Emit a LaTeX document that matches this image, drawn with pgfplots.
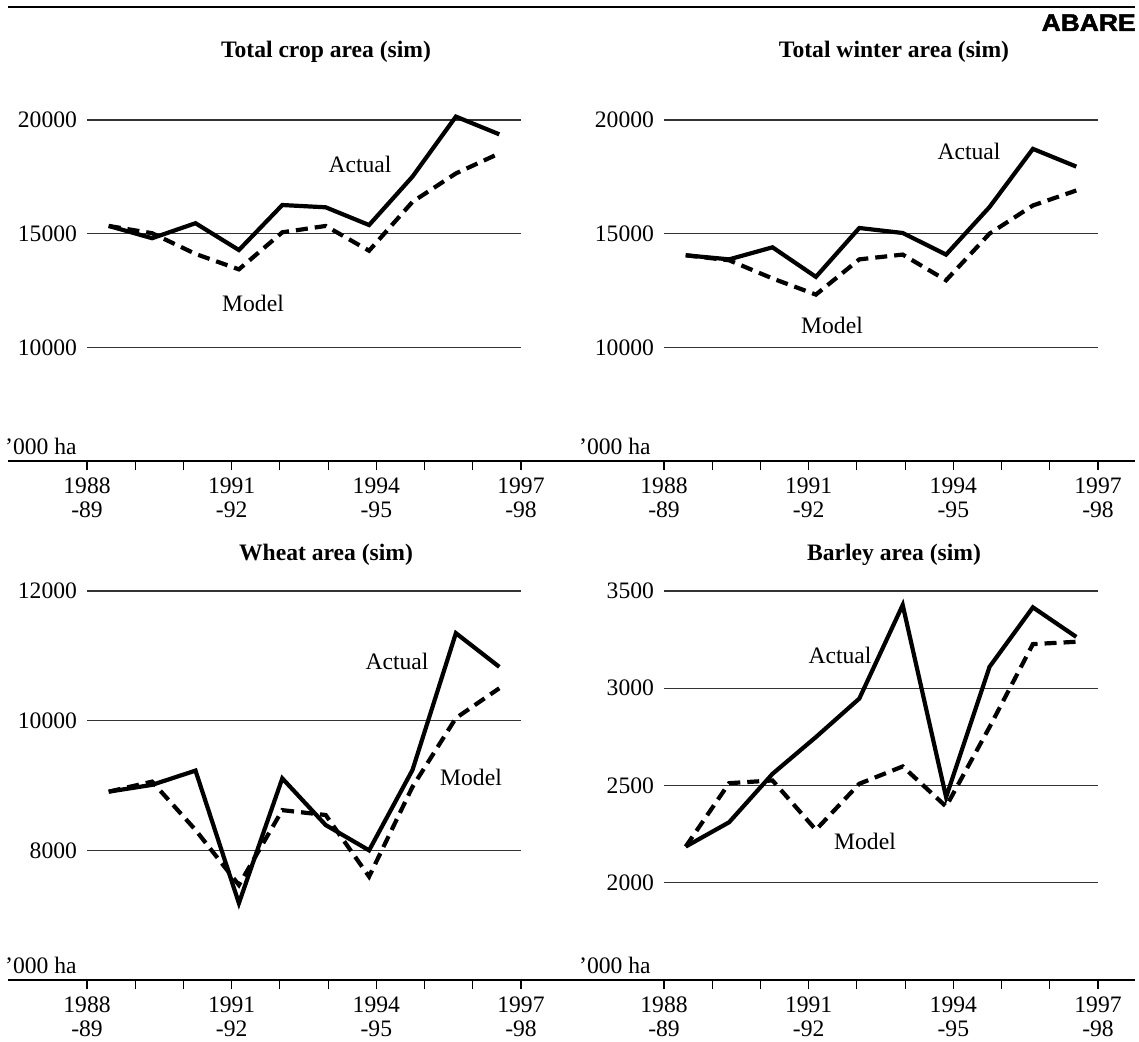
\documentclass[border=0pt]{standalone}
\usepackage{fontspec}
\setmainfont{Liberation Serif}
\newfontfamily\logofont[FakeBold=2]{Liberation Sans}
\usepackage{pgfplots}
\usepackage{pgfplotstable}
\pgfplotsset{compat=1.18}

% x = position of each season (1988-89 ... 1997-98) on a 0..9 tick scale
\pgfplotstableread{
x    actual model
0.45 15340 15340
1.35 14800 15020
2.25 15460 14110
3.15 14280 13430
4.05 16260 15060
4.95 16160 15340
5.85 15380 14250
6.75 17510 16400
7.65 20150 17650
8.55 19370 18530
}\totalcrop

\pgfplotstableread{
x    actual model
0.45 14050 14050
1.35 13870 13830
2.25 14400 13030
3.15 13100 12320
4.05 15250 13870
4.95 15030 14080
5.85 14080 12950
6.75 16170 15000
7.65 18730 16240
8.55 17950 16900
}\totalwinter

\pgfplotstableread{
x    actual model
0.45 8905 8905
1.35 9010 9060
2.25 9230 8315
3.15 7185 7465
4.05 9110 8620
4.95 8390 8545
5.85 8000 7595
6.75 9240 8980
7.65 11350 10040
8.55 10830 10500
}\wheat

\pgfplotstableread{
x    actual model
0.45 2186 2186
1.35 2311 2512
2.25 2560 2526
3.15 2749 2272
4.05 2947 2509
4.95 3428 2598
5.85 2440 2392
6.75 3110 2800
7.65 3416 3227
8.55 3264 3239
}\barley

\newcommand\fs{\fontsize{11.8}{12}\selectfont}

\pgfplotsset{
  panel/.style={
    scale only axis, width=217pt,
    xmin=0, xmax=9,
    axis lines*=left, axis line style={draw=none},
    xtick={0,...,9},
    xticklabels={{1988\\-89},,,{1991\\-92},,,{1994\\-95},,,{1997\\-98}},
    xticklabel style={align=center, yshift=-0.5pt},
    yticklabel style={xshift=3pt},
    tick label style={font=\fs},
    tick align=outside, major tick length=4.5pt,
    x tick style={black, line width=0.6pt},
    y tick style={draw=none},
    ymajorgrids, grid style={black!80, line width=0.65pt},
    scaled y ticks=false,
    /pgf/number format/assume math mode=true,
    /pgf/number format/1000 sep={},
    clip=false,
  },
  act/.style={black, line width=2.1pt, line join=miter},
  mod/.style={black, line width=2.1pt, dash pattern=on 6pt off 3.5pt},
}

\begin{document}
\begin{tikzpicture}
\path[use as bounding box] (0pt,0pt) rectangle (569.5pt,520.5pt);

% rules
\draw[line width=1pt] (4pt,517pt) -- (567.5pt,517pt);
\draw[line width=0.7pt] (4pt,290pt) -- (567.5pt,290pt);
\draw[line width=0.7pt] (4pt,30.5pt) -- (567.5pt,30.5pt);

\node[anchor=base east, inner sep=0, xscale=1.1,
  font=\logofont\bfseries\fontsize{12}{12}\selectfont] at (568pt,505pt) {ABARE};

% top left
\begin{axis}[panel, at={(43.5pt,290pt)}, anchor=south west, height=170.5pt,
  ymin=5000, ymax=20000, ytick={10000,15000,20000}]
\addplot[act] table[x=x, y=actual] {\totalcrop};
\addplot[mod] table[x=x, y=model] {\totalcrop};
\end{axis}

% top right
\begin{axis}[panel, at={(332pt,290pt)}, anchor=south west, height=170.5pt,
  ymin=5000, ymax=20000, ytick={10000,15000,20000}]
\addplot[act] table[x=x, y=actual] {\totalwinter};
\addplot[mod] table[x=x, y=model] {\totalwinter};
\end{axis}

% bottom left
\begin{axis}[panel, at={(43.5pt,30.5pt)}, anchor=south west, height=194.5pt,
  ymin=6000, ymax=12000, ytick={8000,10000,12000}]
\addplot[act] table[x=x, y=actual] {\wheat};
\addplot[mod] table[x=x, y=model] {\wheat};
\end{axis}

% bottom right
\begin{axis}[panel, at={(332pt,30.5pt)}, anchor=south west, height=194.5pt,
  ymin=1500, ymax=3500, ytick={2000,2500,3000,3500}]
\addplot[act] table[x=x, y=actual] {\barley};
\addplot[mod] table[x=x, y=model] {\barley};
\end{axis}

% titles
\node[anchor=base, font=\bfseries\fs] at (163pt,491.5pt) {Total crop area (sim)};
\node[anchor=base, font=\bfseries\fs] at (447pt,491.5pt) {Total winter area (sim)};
\node[anchor=base, font=\bfseries\fs] at (163pt,240.5pt) {Wheat area (sim)};
\node[anchor=base, font=\bfseries\fs] at (447pt,240.5pt) {Barley area (sim)};

% units
\node[anchor=base east, inner sep=0, font=\fs] at (38.5pt,293.5pt) {'000 ha};
\node[anchor=base east, inner sep=0, font=\fs] at (325.5pt,293.5pt) {'000 ha};
\node[anchor=base east, inner sep=0, font=\fs] at (38.5pt,34pt) {'000 ha};
\node[anchor=base east, inner sep=0, font=\fs] at (325.5pt,34pt) {'000 ha};

% series labels
\node[font=\fs] at (180pt,438.5pt) {Actual};
\node[font=\fs] at (126.5pt,369pt) {Model};
\node[font=\fs] at (484.5pt,445pt) {Actual};
\node[font=\fs] at (416pt,358pt) {Model};
\node[font=\fs] at (198.5pt,190pt) {Actual};
\node[font=\fs] at (235.5pt,132pt) {Model};
\node[font=\fs] at (420pt,193pt) {Actual};
\node[font=\fs] at (432.5pt,100pt) {Model};
\end{tikzpicture}
\end{document}
